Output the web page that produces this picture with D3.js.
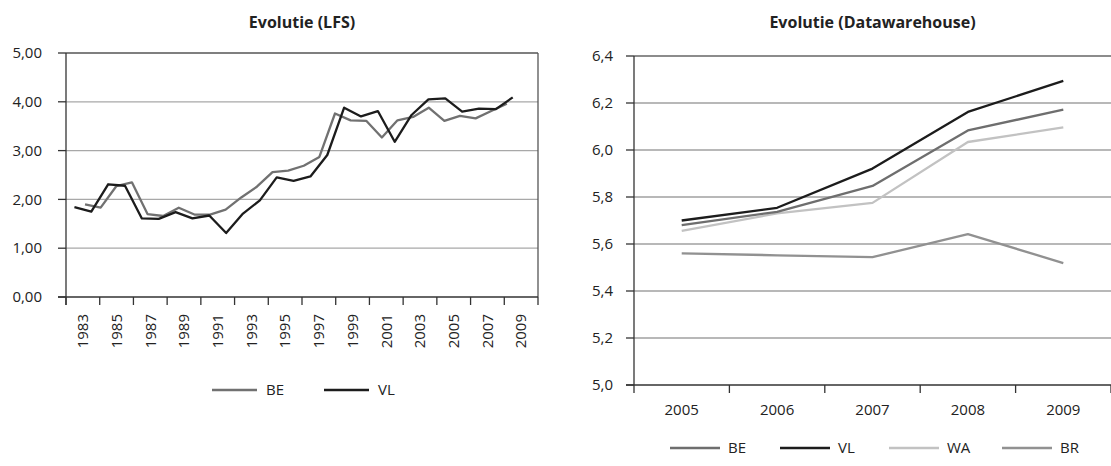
<!DOCTYPE html>
<html>
<head>
<meta charset="utf-8">
<script src="https://cdn.jsdelivr.net/npm/d3@7"></script>
<style>
  body { margin: 0; background: #fff; }
  svg { display: block; }
  text { font-family: "Open Sans", sans-serif; fill: #222; }
  .title { font-weight: bold; font-size: 16px; }
  .tick-label { font-size: 15px; }
  .legend-label { font-size: 15px; }
</style>
</head>
<body>
<svg id="chart" width="1111" height="466"></svg>
<script>
// Left chart: LFS
const lfsYears = [1983, 1984, 1985, 1986, 1987, 1988, 1989, 1990, 1991, 1992, 1993, 1994, 1995,
    1996, 1997, 1998, 1999, 2000, 2001, 2002, 2003, 2004, 2005, 2006, 2007, 2008, 2009];
const lfsVL = [1.84, 1.75, 2.31, 2.28, 1.61, 1.60, 1.74, 1.61, 1.67, 1.31, 1.71, 1.98, 2.45,
    2.38, 2.47, 2.91, 3.88, 3.70, 3.81, 3.18, 3.73, 4.05, 4.07, 3.80, 3.86, 3.85, 4.09];
// BE sits on its own (secondary) category axis, 28 points
const lfsBE = [1.90, 1.83, 2.27, 2.35, 1.70, 1.66, 1.83, 1.69, 1.69, 1.79, 2.04, 2.26, 2.56, 2.59,
    2.69, 2.87, 3.76, 3.62, 3.61, 3.27, 3.62, 3.69, 3.88, 3.61, 3.71, 3.66, 3.81, 3.96];
const lfsTickLabels = ['1983', '1985', '1987', '1989', '1991', '1993', '1995',
    '1997', '1999', '2001', '2003', '2005', '2007', '2009'];
const lfsYTicks = [0, 1, 2, 3, 4, 5];

// Right chart: Datawarehouse
const dwhYears = ['2005', '2006', '2007', '2008', '2009'];
const dwhBE = [5.68, 5.737, 5.847, 6.083, 6.172];
const dwhVL = [5.70, 5.754, 5.921, 6.162, 6.294];
const dwhWA = [5.656, 5.73, 5.775, 6.034, 6.096];
const dwhBR = [5.56, 5.552, 5.544, 5.642, 5.519];
const dwhYTicks = [5.0, 5.2, 5.4, 5.6, 5.8, 6.0, 6.2, 6.4];

const svg = d3.select('#chart');
const comma = d => d3.format(',.2f')(d).replace('.', ',');
const comma1 = d => d3.format('.1f')(d).replace('.', ',');

// ---------- LFS chart ----------
{
    const m = {left: 66, top: 53, right: 538, bottom: 297};
    const w = m.right - m.left, h = m.bottom - m.top;
    const g = svg.append('g').attr('transform', `translate(${m.left},${m.top})`);

    const x = d3.scaleLinear()
        .domain([lfsYears[0] - 0.5, lfsYears[lfsYears.length - 1] + 1.5])
        .range([0, w]);
    const xBE = d3.scalePoint()
        .domain(d3.range(lfsBE.length))
        .range([w * 0.0403, w * 0.934]);
    const y = d3.scaleLinear().domain([0, 5]).range([h, 0]);

    // gridlines
    g.selectAll('.grid').data(lfsYTicks.slice(1, -1)).join('line')
        .attr('x1', 0).attr('x2', w)
        .attr('y1', d => y(d)).attr('y2', d => y(d))
        .attr('stroke', '#a8a8a8').attr('stroke-width', 1.3);
    // frame top & right
    g.append('line').attr('x1', 0).attr('x2', w).attr('y1', y(5)).attr('y2', y(5))
        .attr('stroke', '#555').attr('stroke-width', 1.3);
    g.append('line').attr('x1', w).attr('x2', w).attr('y1', 0).attr('y2', h)
        .attr('stroke', '#555').attr('stroke-width', 1.3);

    // y axis
    g.selectAll('.ytick').data(lfsYTicks).join('line')
        .attr('x1', -8).attr('x2', 0)
        .attr('y1', d => y(d)).attr('y2', d => y(d))
        .attr('stroke', '#333').attr('stroke-width', 1.3);
    g.selectAll('.ylab').data(lfsYTicks).join('text')
        .attr('class', 'tick-label')
        .attr('x', -24).attr('y', d => y(d)).attr('dy', '0.35em')
        .attr('text-anchor', 'end')
        .text(comma);
    g.append('line').attr('x1', 0).attr('x2', 0).attr('y1', 0).attr('y2', h + 8)
        .attr('stroke', '#333').attr('stroke-width', 1.3);

    // x axis
    const tickYears = lfsTickLabels.map(d => +d - 0.5).concat([+lfsTickLabels[lfsTickLabels.length - 1] + 1.5]);
    g.append('line').attr('x1', -8).attr('x2', w).attr('y1', h).attr('y2', h)
        .attr('stroke', '#333').attr('stroke-width', 1.3);
    g.selectAll('.xtick').data(tickYears).join('line')
        .attr('x1', d => x(d)).attr('x2', d => x(d))
        .attr('y1', h).attr('y2', h + 8)
        .attr('stroke', '#333').attr('stroke-width', 1.3);
    g.selectAll('.xlab').data(lfsTickLabels).join('text')
        .attr('class', 'tick-label')
        .attr('transform', d => `translate(${x(+d + 0.5)},${h + 17}) rotate(-90)`)
        .attr('dy', '0.35em')
        .attr('text-anchor', 'end')
        .text(d => d);

    // lines
    g.append('path')
        .datum(lfsBE)
        .attr('fill', 'none').attr('stroke', '#717171').attr('stroke-width', 2.3)
        .attr('stroke-linejoin', 'round')
        .attr('d', d3.line().x((d, i) => xBE(i)).y(d => y(d)));
    g.append('path')
        .datum(lfsVL)
        .attr('fill', 'none').attr('stroke', '#1c1c1c').attr('stroke-width', 2.3)
        .attr('stroke-linejoin', 'round')
        .attr('d', d3.line().x((d, i) => x(lfsYears[i])).y(d => y(d)));

    // legend
    const leg = [{name: 'BE', color: '#717171', x: 212}, {name: 'VL', color: '#1c1c1c', x: 324}];
    const lg = svg.append('g').attr('transform', 'translate(0,390)');
    lg.selectAll('line').data(leg).join('line')
        .attr('x1', d => d.x).attr('x2', d => d.x + 45)
        .attr('stroke', d => d.color).attr('stroke-width', 2.3);
    lg.selectAll('text').data(leg).join('text')
        .attr('class', 'legend-label')
        .attr('x', d => d.x + 54).attr('dy', '0.35em')
        .text(d => d.name);

    svg.append('text').attr('class', 'title')
        .attr('x', m.left + w / 2).attr('y', 28)
        .attr('text-anchor', 'middle')
        .text('Evolutie (LFS)');
}

// ---------- Datawarehouse chart ----------
{
    const m = {left: 634, top: 56, right: 1111, bottom: 385};
    const w = m.right - m.left, h = m.bottom - m.top;
    const g = svg.append('g').attr('transform', `translate(${m.left},${m.top})`);

    const x = d3.scaleBand().domain(dwhYears).range([0, w]);
    const y = d3.scaleLinear().domain([5.0, 6.4]).range([h, 0]);

    g.selectAll('.grid').data(dwhYTicks.slice(1, -1)).join('line')
        .attr('x1', 0).attr('x2', w)
        .attr('y1', d => y(d)).attr('y2', d => y(d))
        .attr('stroke', '#a0a0a0').attr('stroke-width', 1.3);
    g.append('line').attr('x1', 0).attr('x2', w).attr('y1', y(6.4)).attr('y2', y(6.4))
        .attr('stroke', '#666').attr('stroke-width', 1.6);

    g.selectAll('.ytick').data(dwhYTicks).join('line')
        .attr('x1', -8).attr('x2', 0)
        .attr('y1', d => y(d)).attr('y2', d => y(d))
        .attr('stroke', '#333').attr('stroke-width', 1.3);
    g.selectAll('.ylab').data(dwhYTicks).join('text')
        .attr('class', 'tick-label')
        .attr('x', -21).attr('y', d => y(d)).attr('dy', '0.35em')
        .attr('text-anchor', 'end')
        .text(comma1);
    g.append('line').attr('x1', 0).attr('x2', 0).attr('y1', 0).attr('y2', h + 8)
        .attr('stroke', '#333').attr('stroke-width', 1.3);

    g.append('line').attr('x1', -8).attr('x2', w).attr('y1', h).attr('y2', h)
        .attr('stroke', '#333').attr('stroke-width', 1.3);
    g.selectAll('.xtick').data(dwhYears).join('line')
        .attr('x1', d => x(d) + x.bandwidth()).attr('x2', d => x(d) + x.bandwidth())
        .attr('y1', h).attr('y2', h + 8)
        .attr('stroke', '#333').attr('stroke-width', 1.3);
    g.selectAll('.xlab').data(dwhYears).join('text')
        .attr('class', 'tick-label')
        .attr('x', d => x(d) + x.bandwidth() / 2).attr('y', h + 25)
        .attr('dy', '0.35em')
        .attr('text-anchor', 'middle')
        .text(d => d);

    const series = [
        {name: 'BE', values: dwhBE, color: '#6e6e6e', lx: 670},
        {name: 'VL', values: dwhVL, color: '#1c1c1c', lx: 780},
        {name: 'WA', values: dwhWA, color: '#c2c2c2', lx: 889},
        {name: 'BR', values: dwhBR, color: '#919191', lx: 1002}
    ];
    const line = d3.line().x((d, i) => x(dwhYears[i]) + x.bandwidth() / 2).y(d => y(d));
    g.selectAll('.series').data(series.slice().reverse()).join('path')
        .attr('fill', 'none')
        .attr('stroke', d => d.color).attr('stroke-width', 2.3)
        .attr('stroke-linejoin', 'round')
        .attr('d', d => line(d.values));

    const lg = svg.append('g').attr('transform', 'translate(0,448)');
    lg.selectAll('line').data(series).join('line')
        .attr('x1', d => d.lx).attr('x2', d => d.lx + 50)
        .attr('stroke', d => d.color).attr('stroke-width', 2.3);
    lg.selectAll('text').data(series).join('text')
        .attr('class', 'legend-label')
        .attr('x', d => d.lx + 58).attr('dy', '0.35em')
        .text(d => d.name);

    svg.append('text').attr('class', 'title')
        .attr('x', m.left + w / 2).attr('y', 28)
        .attr('text-anchor', 'middle')
        .text('Evolutie (Datawarehouse)');
}
</script>
</body>
</html>
